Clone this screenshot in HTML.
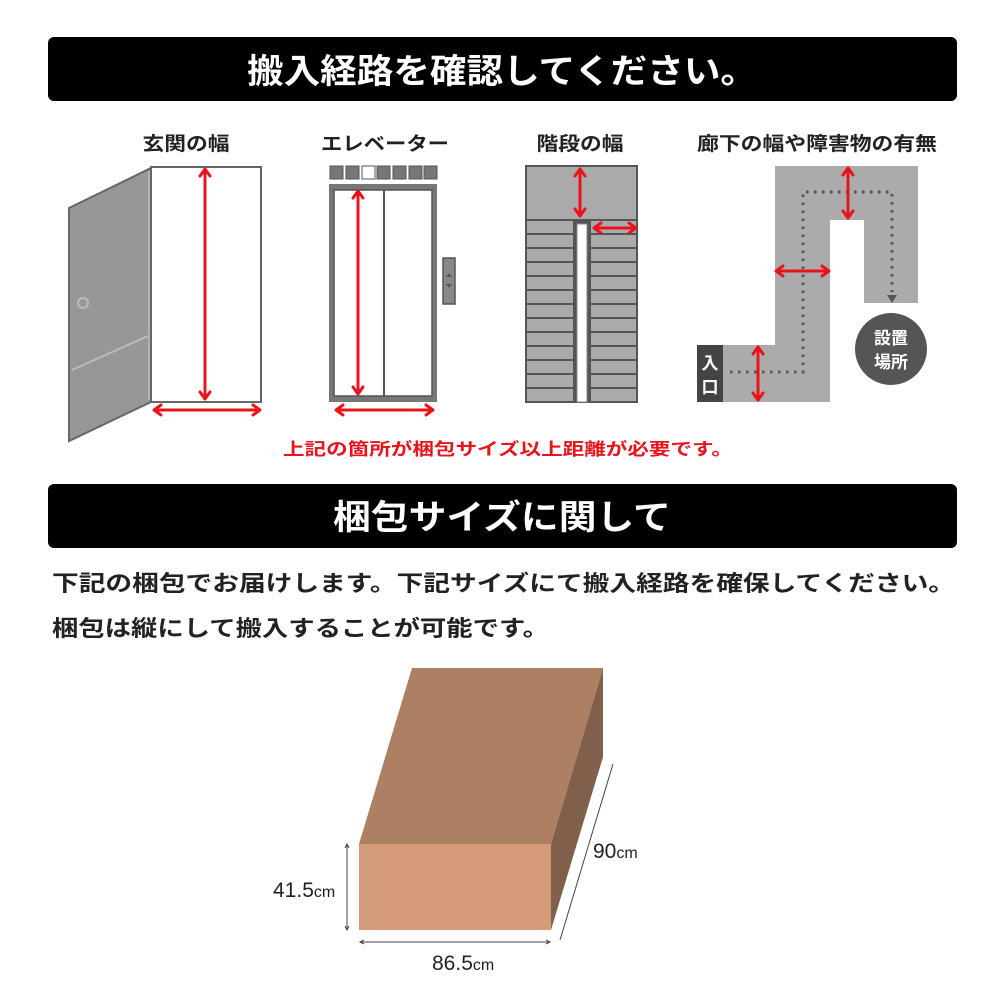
<!DOCTYPE html>
<html><head><meta charset="utf-8"><style>
html,body{margin:0;padding:0;background:#fff;width:1000px;height:1000px;overflow:hidden}
svg{display:block}
text{font-family:"Liberation Sans","Noto Sans CJK JP",sans-serif}
</style></head><body>
<svg width="1000" height="1000" viewBox="0 0 1000 1000" xmlns="http://www.w3.org/2000/svg">
<!-- header 1 -->
<rect x="48" y="37" width="909" height="64" rx="6" fill="#000"/>
<text x="502" y="83" fill="#fff" font-size="34" font-weight="bold" text-anchor="middle" textLength="510" lengthAdjust="spacingAndGlyphs">搬入経路を確認してください。</text>

<!-- labels -->
<g font-size="19" font-weight="bold" fill="#222" text-anchor="middle">
<text x="186" y="150" textLength="87" lengthAdjust="spacingAndGlyphs">玄関の幅</text>
<text x="385" y="150" textLength="128" lengthAdjust="spacingAndGlyphs">エレベーター</text>
<text x="580" y="150" textLength="87" lengthAdjust="spacingAndGlyphs">階段の幅</text>
<text x="817" y="150" textLength="240" lengthAdjust="spacingAndGlyphs">廊下の幅や障害物の有無</text>
</g>

<!-- door -->
<rect x="151" y="167" width="110" height="235" fill="#fff" stroke="#666" stroke-width="2"/>
<polygon points="69,208 151,168 151,402 69,441" fill="#979797" stroke="#666" stroke-width="2"/>
<polyline points="149,171 149,400" stroke="#bbb" stroke-width="1.5" fill="none"/>
<line x1="72" y1="370" x2="148" y2="336" stroke="#bbb" stroke-width="2"/>
<ellipse cx="83" cy="303" rx="5" ry="5" fill="none" stroke="#bbb" stroke-width="2"/>

<!-- elevator -->
<g fill="#777" stroke="#555" stroke-width="1">
<rect x="330" y="166" width="13" height="13"/><rect x="346" y="166" width="13" height="13"/>
<rect x="362" y="166" width="13" height="13" fill="#fff"/><rect x="377" y="166" width="13" height="13"/>
<rect x="393" y="166" width="13" height="13"/><rect x="409" y="166" width="13" height="13"/>
<rect x="424" y="166" width="13" height="13"/>
</g>
<rect x="329" y="184" width="108" height="218" fill="#777"/>
<rect x="334" y="190" width="98" height="206" fill="#fff" stroke="#555" stroke-width="1.5"/>
<line x1="384" y1="190" x2="384" y2="396" stroke="#555" stroke-width="2"/>
<rect x="443" y="258" width="12" height="46" fill="#888" stroke="#555" stroke-width="1.5"/>
<polygon points="449,273 446,277 452,277" fill="#555"/>
<polygon points="449,288 446,284 452,284" fill="#555"/>

<!-- stairs -->
<rect x="526" y="166" width="111" height="236" fill="#aaa" stroke="#555" stroke-width="2"/>
<g stroke="#555" stroke-width="2">
<line x1="526" y1="220" x2="637" y2="220"/>
<line x1="526" y1="234" x2="637" y2="234"/><line x1="526" y1="248" x2="637" y2="248"/>
<line x1="526" y1="262" x2="637" y2="262"/><line x1="526" y1="276" x2="637" y2="276"/>
<line x1="526" y1="290" x2="637" y2="290"/><line x1="526" y1="304" x2="637" y2="304"/>
<line x1="526" y1="318" x2="637" y2="318"/><line x1="526" y1="332" x2="637" y2="332"/>
<line x1="526" y1="346" x2="637" y2="346"/><line x1="526" y1="360" x2="637" y2="360"/>
<line x1="526" y1="374" x2="637" y2="374"/><line x1="526" y1="388" x2="637" y2="388"/>
</g>
<rect x="573" y="220" width="18" height="182" fill="#555"/>
<rect x="577" y="224" width="10" height="178" fill="#fff" stroke="#888" stroke-width="1"/>

<!-- corridor -->
<polygon points="775,166 918,166 918,303 864,303 864,220 830,220 830,402 697,402 697,345 775,345" fill="#ababab"/>
<rect x="697" y="345" width="26" height="57" fill="#444"/>
<text x="710" y="369" fill="#fff" font-size="17" font-weight="bold" text-anchor="middle">入</text>
<text x="710" y="393" fill="#fff" font-size="17" font-weight="bold" text-anchor="middle">口</text>
<polyline points="730,372 803,372 803,192 892,192 892,292" fill="none" stroke="#555" stroke-width="3" stroke-dasharray="2.5,5.5"/>
<polygon points="887,295 897,295 892,303" fill="#555"/>
<circle cx="891" cy="349" r="36" fill="#555"/>
<text x="891" y="344" fill="#fff" font-size="17" font-weight="bold" text-anchor="middle">設置</text>
<text x="891" y="368" fill="#fff" font-size="17" font-weight="bold" text-anchor="middle">場所</text>

<!-- red arrows -->
<g stroke="#e8141c" stroke-width="3" fill="none" stroke-linecap="round" stroke-linejoin="round">
<line x1="205" y1="170" x2="205" y2="398"/><polyline points="200,176 205,169 210,176"/><polyline points="200,392 205,399 210,392"/>
<line x1="155" y1="410" x2="259" y2="410"/><polyline points="161,405 154,410 161,415"/><polyline points="253,405 260,410 253,415"/>
<line x1="358" y1="192" x2="358" y2="393"/><polyline points="353,198 358,191 363,198"/><polyline points="353,387 358,394 363,387"/>
<line x1="337" y1="410" x2="432" y2="410"/><polyline points="343,405 336,410 343,415"/><polyline points="426,405 433,410 426,415"/>
<line x1="580" y1="170" x2="580" y2="215"/><polyline points="575,176 580,169 585,176"/><polyline points="575,209 580,216 585,209"/>
<line x1="595" y1="228" x2="635" y2="228"/><polyline points="601,223 594,228 601,233"/><polyline points="629,223 636,228 629,233"/>
<line x1="848" y1="169" x2="848" y2="217"/><polyline points="843,175 848,168 853,175"/><polyline points="843,211 848,218 853,211"/>
<line x1="777" y1="271" x2="828" y2="271"/><polyline points="783,266 776,271 783,276"/><polyline points="822,266 829,271 822,276"/>
<line x1="758" y1="348" x2="758" y2="399"/><polyline points="753,354 758,347 763,354"/><polyline points="753,393 758,400 763,393"/>
</g>

<text x="508" y="455" fill="#e8141c" font-size="17" font-weight="bold" text-anchor="middle" textLength="450" lengthAdjust="spacingAndGlyphs">上記の箇所が梱包サイズ以上距離が必要です。</text>

<!-- header 2 -->
<rect x="48" y="484" width="909" height="64" rx="6" fill="#000"/>
<text x="502" y="529" fill="#fff" font-size="34" font-weight="bold" text-anchor="middle" textLength="338" lengthAdjust="spacingAndGlyphs">梱包サイズに関して</text>

<g font-size="22" font-weight="bold" fill="#222">
<text x="52" y="591" textLength="903" lengthAdjust="spacingAndGlyphs">下記の梱包でお届けします。下記サイズにて搬入経路を確保してください。</text>
<text x="52" y="636" textLength="497" lengthAdjust="spacingAndGlyphs">梱包は縦にして搬入することが可能です。</text>
</g>

<!-- box -->
<polygon points="359,844 412,668 603,668 551,844" fill="#ad8064"/>
<polygon points="551,844 603,668 603,757 551,930" fill="#80604a"/>
<rect x="359" y="844" width="192" height="86" fill="#d59b78"/>

<g stroke="#444" stroke-width="1" fill="none">
<line x1="347" y1="845" x2="347" y2="930"/>
<polyline points="345,848 347,844 349,848"/><polyline points="345,926 347,930 349,926"/>
<line x1="360" y1="942" x2="550" y2="942"/>
<polyline points="364,940 360,942 364,944"/><polyline points="546,940 550,942 546,944"/>
<line x1="560" y1="940" x2="613" y2="764"/>
</g>
<g fill="#222">
<text x="273" y="897" font-size="21">41.5<tspan font-size="16">cm</tspan></text>
<text x="432" y="970" font-size="21">86.5<tspan font-size="16">cm</tspan></text>
<text x="593" y="858" font-size="21">90<tspan font-size="16">cm</tspan></text>
</g>
</svg>
</body></html>
